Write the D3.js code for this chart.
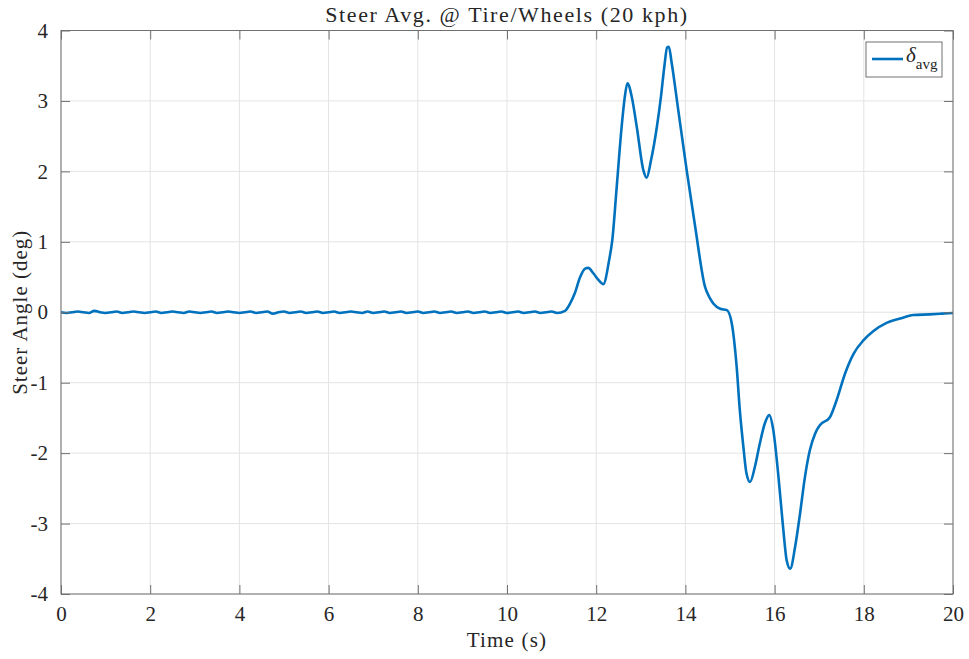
<!DOCTYPE html>
<html>
<head>
<meta charset="utf-8">
<script src="https://cdn.jsdelivr.net/npm/d3@7"></script>
<style>
  body { margin: 0; background: #fff; }
  svg text { font-family: "Liberation Serif", "DejaVu Serif", serif; fill: #262626; }
</style>
</head>
<body>
<div class="chart"></div>
<script>
// time (s) and averaged steer angle (deg)
var times = [0, 0.125, 0.25, 0.375, 0.5, 0.625, 0.75, 0.875, 1, 1.125, 1.25, 1.375, 1.5, 1.625, 1.75, 1.875,
  2, 2.125, 2.25, 2.375, 2.5, 2.625, 2.75, 2.875, 3, 3.125, 3.25, 3.375, 3.5, 3.625, 3.75, 3.875,
  4, 4.125, 4.25, 4.375, 4.5, 4.625, 4.75, 4.875, 5, 5.125, 5.25, 5.375, 5.5, 5.625, 5.75, 5.875,
  6, 6.125, 6.25, 6.375, 6.5, 6.625, 6.75, 6.875, 7, 7.125, 7.25, 7.375, 7.5, 7.625, 7.75, 7.875,
  8, 8.125, 8.25, 8.375, 8.5, 8.625, 8.75, 8.875, 9, 9.125, 9.25, 9.375, 9.5, 9.625, 9.75, 9.875,
  10, 10.125, 10.25, 10.375, 10.5, 10.625, 10.75, 10.875, 11, 11.125, 11.3,
  11.41, 11.52, 11.64, 11.75, 11.82, 11.94, 12.05, 12.16, 12.29, 12.36, 12.46, 12.57, 12.64,
  12.7, 12.8, 12.91, 13.06, 13.13, 13.23, 13.36, 13.45, 13.53, 13.59, 13.63, 13.69, 13.84,
  14.03, 14.22, 14.44, 14.55, 14.63, 14.78, 14.93, 15.04, 15.15, 15.22, 15.3, 15.37,
  15.45, 15.56, 15.67, 15.78, 15.88, 15.97, 16.08, 16.19, 16.27, 16.35, 16.46, 16.57,
  16.68, 16.79, 16.91, 17.02, 17.24, 17.39, 17.58, 17.77, 17.99, 18.21, 18.51, 18.81,
  19.11, 19.48, 19.75, 20];
var steerAvg = [0.0, -0.01, 0.0, 0.01, 0.0, -0.01, 0.02, 0.0, -0.01, 0.0, 0.01, -0.01, 0.0, 0.01, 0.0, -0.01,
  0.0, 0.01, -0.01, 0.0, 0.01, 0.0, -0.01, 0.01, 0.0, -0.01, 0.0, 0.01, -0.01, 0.0, 0.01, 0.0,
  -0.01, 0.0, 0.01, -0.01, 0.0, 0.01, -0.02, 0.0, 0.01, -0.01, 0.0, 0.01, -0.01, 0.0, 0.01, -0.01,
  0.0, 0.01, -0.01, 0.0, 0.01, 0.0, -0.01, 0.01, -0.01, 0.0, 0.01, -0.01, 0.0, 0.01, -0.01, 0.0,
  0.01, -0.01, 0.0, 0.01, -0.01, 0.0, 0.01, -0.01, 0.0, 0.01, -0.01, 0.0, 0.01, -0.01, 0.0, 0.01,
  -0.01, 0.0, 0.01, -0.01, 0.0, 0.01, -0.01, 0.0, 0.01, -0.01, 0.02,
  0.12, 0.27, 0.5, 0.62, 0.63, 0.55, 0.46, 0.4, 0.74, 1.02, 1.78, 2.63, 3.05,
  3.25, 3.05, 2.63, 2.01, 1.91, 2.16, 2.63, 3.05, 3.5, 3.76, 3.77, 3.55, 2.87,
  2.01, 1.21, 0.36, 0.2, 0.12, 0.05, 0.03, -0.16, -0.78, -1.39, -1.91, -2.29,
  -2.41, -2.19, -1.86, -1.58, -1.46, -1.67, -2.29, -3.05, -3.52, -3.64, -3.33, -2.86,
  -2.34, -1.96, -1.72, -1.6, -1.49, -1.25, -0.87, -0.59, -0.4, -0.27, -0.15, -0.09,
  -0.04, -0.03, -0.02, -0.01];
var xTicks = [0, 2, 4, 6, 8, 10, 12, 14, 16, 18, 20];
var yTicks = [-4, -3, -2, -1, 0, 1, 2, 3, 4];

var W = 969, H = 659;
var margin = { top: 30.5, right: 16, bottom: 65, left: 61 };
var width = W - margin.left - margin.right;
var height = H - margin.top - margin.bottom;

var x = d3.scaleLinear().domain([0, 20]).range([0, width]);
var y = d3.scaleLinear().domain([-4, 4]).range([height, 0]);

var svg = d3.select('.chart').append('svg')
  .attr('width', W)
  .attr('height', H);

var g = svg.append('g')
  .attr('transform', 'translate(' + margin.left + ',' + margin.top + ')');

// grid
g.append('g').selectAll('line').data(xTicks).enter().append('line')
  .attr('x1', function(d) { return x(d); }).attr('x2', function(d) { return x(d); })
  .attr('y1', 0).attr('y2', height)
  .attr('stroke', '#e3e3e3').attr('stroke-width', 1);
g.append('g').selectAll('line').data(yTicks).enter().append('line')
  .attr('y1', function(d) { return y(d); }).attr('y2', function(d) { return y(d); })
  .attr('x1', 0).attr('x2', width)
  .attr('stroke', '#e3e3e3').attr('stroke-width', 1);

// line
var data = times.map(function(t, i) { return [t, steerAvg[i]]; });
var line = d3.line()
  .x(function(d) { return x(d[0]); })
  .y(function(d) { return y(d[1]); })
  .curve(d3.curveMonotoneX);

g.append('path')
  .datum(data)
  .attr('fill', 'none')
  .attr('stroke', '#0072BD')
  .attr('stroke-width', 2.6)
  .attr('stroke-linejoin', 'round')
  .attr('d', line);

// axes (ticks inside, box all round)
var axisColor = '#707070';
function styleAxis(sel) {
  sel.select('.domain').remove();
  sel.selectAll('.tick line').attr('stroke', axisColor);
  sel.selectAll('.tick text').attr('font-size', 21).attr('fill', '#262626')
    .style('font-family', '"Liberation Serif", "DejaVu Serif", serif');
}
var fmt = function(d) { return String(d); };

g.append('g')
  .attr('transform', 'translate(0,' + height + ')')
  .call(d3.axisBottom(x).tickValues(xTicks).tickSize(-9).tickPadding(12).tickFormat(fmt))
  .call(styleAxis);
g.append('g')
  .call(d3.axisTop(x).tickValues(xTicks).tickSize(-9).tickFormat(''))
  .call(styleAxis);
g.append('g')
  .call(d3.axisLeft(y).tickValues(yTicks).tickSize(-9).tickPadding(13).tickFormat(fmt))
  .call(styleAxis);
g.append('g')
  .attr('transform', 'translate(' + width + ',0)')
  .call(d3.axisRight(y).tickValues(yTicks).tickSize(-9).tickFormat(''))
  .call(styleAxis);

g.append('rect')
  .attr('width', width).attr('height', height)
  .attr('fill', 'none').attr('stroke', axisColor).attr('stroke-width', 1);

// title & labels
svg.append('text')
  .attr('x', margin.left + width / 2).attr('y', 22)
  .attr('text-anchor', 'middle').attr('font-size', 22)
  .attr('letter-spacing', 1.6)
  .text('Steer Avg. @ Tire/Wheels (20 kph)');

svg.append('text')
  .attr('x', margin.left + width / 2).attr('y', 647)
  .attr('text-anchor', 'middle').attr('font-size', 21)
  .attr('letter-spacing', 1.2)
  .text('Time (s)');

svg.append('text')
  .attr('transform', 'translate(27,' + (margin.top + height / 2) + ') rotate(-90)')
  .attr('text-anchor', 'middle').attr('font-size', 21)
  .attr('letter-spacing', 1)
  .text('Steer Angle (deg)');

// legend
var lg = g.append('g').attr('transform', 'translate(' + (x(20) - 87) + ',11.5)');
lg.append('rect')
  .attr('width', 76).attr('height', 35)
  .attr('fill', '#fff').attr('stroke', axisColor).attr('stroke-width', 1);
lg.append('line')
  .attr('x1', 6).attr('x2', 37).attr('y1', 17).attr('y2', 17)
  .attr('stroke', '#0072BD').attr('stroke-width', 2.6);
var lt = lg.append('text').attr('x', 40).attr('y', 20).attr('font-size', 21);
lt.append('tspan').attr('font-style', 'italic').text('δ');
lt.append('tspan').attr('dy', 7).attr('font-size', 15).text('avg');
</script>
</body>
</html>
